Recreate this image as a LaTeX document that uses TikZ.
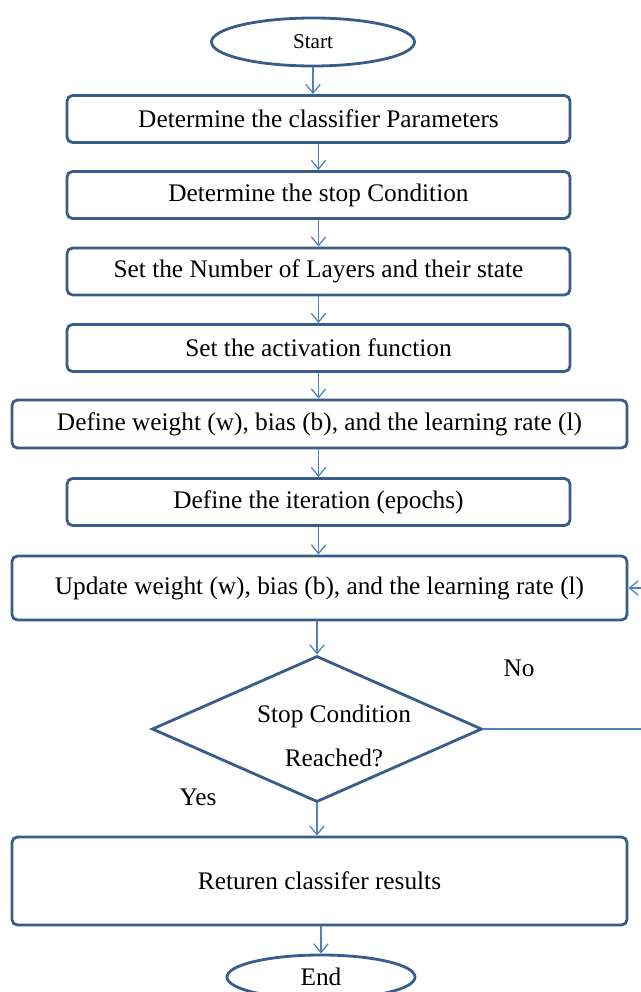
\documentclass[tikz,border=0pt]{standalone}
\usepackage{fontspec}
\setmainfont{Liberation Serif}
\usepackage{xcolor}
\usetikzlibrary{positioning, arrows.meta, shapes.geometric}

\definecolor{boxblue}{RGB}{56,93,138}
\definecolor{linkblue}{RGB}{79,129,189}

\begin{document}
\begin{tikzpicture}[x=0.025cm, y=-0.025cm,
  stepbox/.style={draw=boxblue, line width=2pt, rounded corners=4pt, fill=white,
    minimum width=12.575cm, minimum height=1.175cm, inner sep=0pt},
  widebox/.style={stepbox, minimum width=15.375cm},
  term/.style={draw=boxblue, line width=2pt, ellipse, inner sep=0pt},
  decide/.style={draw=boxblue, line width=2pt, diamond, inner sep=0pt,
    minimum width=8.25cm, minimum height=3.65cm},
  link/.style={draw=linkblue, line width=0.9pt, -{Straight Barb[length=2.2mm, width=3.6mm]}},
  every node/.style={font=\fontsize{18}{21}\selectfont}
]

\useasboundingbox (0,0) rectangle (640,992);

% ---------- INICIO ----------

\node[term, minimum width=5.075cm, minimum height=1.2cm, font=\fontsize{15}{17}\selectfont] (start) at (313,42) {Start};

% ---------- PASOS ----------

\node[stepbox] (params) at (318.5,119) {Determine the classifier Parameters};
\node[stepbox] (cond) at (318.5,195) {Determine the stop Condition};
\node[stepbox] (layers) at (318.5,271.5) {Set the Number of Layers and their state};
\node[stepbox] (act) at (318.5,348) {Set the activation function};
\node[widebox, minimum height=1.2cm] (define) at (319.5,424) {Define weight (w), bias (b), and the learning rate (l)};
\node[stepbox] (epochs) at (318.5,502) {Define the iteration (epochs)};
\node[widebox, minimum height=1.6cm] (upd) at (319.5,588) {Update weight (w), bias (b), and the learning rate (l)};

% ---------- DECISION ----------

\node[decide] (stop) at (317,729) {};
\node[align=center, font=\fontsize{18}{31}\selectfont] (stoptxt) at (334,736) {Stop Condition\\Reached?};
\node (no) at (519,668) {No};
\node (yes) at (198,797) {Yes};

% ---------- FINAL ----------

\node[widebox, minimum height=2.2cm] (res) at (319.5,881) {\raisebox{-4pt}{Returen classifer results}};
\node[term, minimum width=4.7cm, minimum height=1.1cm] (end) at (321,977) {End};

% ---------- FLECHAS ----------

\draw[link] (start) -- (start.south |- params.north);
\draw[link] (params) -- (params.south |- cond.north);
\draw[link] (cond) -- (cond.south |- layers.north);
\draw[link] (layers) -- (layers.south |- act.north);
\draw[link] (act) -- (act.south |- define.north);
\draw[link] (define.south -| act.south) -- (act.south |- epochs.north);
\draw[link] (epochs) -- (epochs.south |- upd.north);
\draw[link] (upd.south -| stop.north) -- (stop.north);
\draw[link] (stop) -- (stop.south |- res.north);
\draw[link] (res.south -| end.north) -- (end.north);

\coordinate (loop) at (660,588);
\draw[link] (stop.east) -| (loop) -- (upd.east);

\end{tikzpicture}
\end{document}
